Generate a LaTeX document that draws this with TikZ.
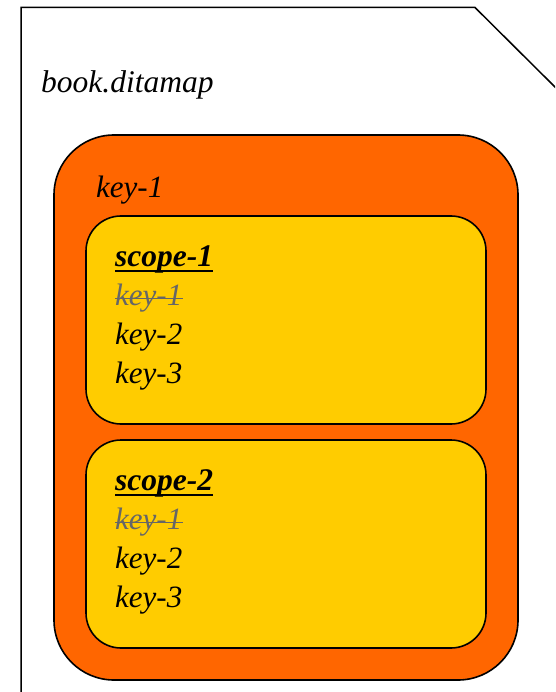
\documentclass[tikz,border=0pt]{standalone}
\usepackage{fontspec}
\setmainfont{Liberation Serif}
\definecolor{mapor}{HTML}{FF6600}
\definecolor{scopey}{HTML}{FFCC00}
\definecolor{strikeg}{HTML}{666666}
\begin{document}
\begin{tikzpicture}[x=1pt,y=-1pt,
  docline/.style={draw=black,line width=1.5pt},
  outerbox/.style={draw=black,line width=1.6pt,fill=mapor,rounded corners=60pt,inner sep=0pt},
  scopebox/.style={draw=black,line width=1.6pt,fill=scopey,rounded corners=35pt,inner sep=0pt,minimum width=400pt,minimum height=208pt},
  lbl/.style={anchor=base west,inner sep=0pt,font=\fontsize{31}{37}\selectfont\itshape},
  blbl/.style={anchor=base west,inner sep=0pt,font=\fontsize{31.5}{37}\selectfont\itshape},
  slbl/.style={anchor=base west,inner sep=0pt,font=\fontsize{31.5}{37}\selectfont\bfseries\itshape},
  glbl/.style={lbl,text=strikeg},
  uline/.style={draw=black,line width=2pt},
  sline/.style={draw=strikeg,line width=1.6pt}]
\useasboundingbox (0,0) rectangle (555,692);
\clip (0,0) rectangle (555,692);
\fill[white] (0,0) rectangle (555,692);
\coordinate (d1) at (556,88);
\coordinate (d2) at (475,7.5);
\coordinate (d3) at (21,7.5);
\coordinate (d4) at (21,700);
\draw[docline] (d1) -- (d2) -- (d3) -- (d4);
\node[blbl] (book) at (41,93) {book.ditamap};
\node[outerbox,minimum width=464pt,minimum height=545pt] (map) at (286,407.5) {};
\node[lbl] (mk1) at (96,198) {key-1};
\node[scopebox] (s1) at (286,320) {};
\node[scopebox] (s2) at (286,544) {};
\node[slbl] (s1t) at (115,266) {scope-1};
\node[glbl] (s1k1) at (115,305) {key-1};
\node[lbl] (s1k2) at (115,344) {key-2};
\node[lbl] (s1k3) at (115,383) {key-3};
\node[slbl] (s2t) at (115,490) {scope-2};
\node[glbl] (s2k1) at (115,529) {key-1};
\node[lbl] (s2k2) at (115,568) {key-2};
\node[lbl] (s2k3) at (115,607) {key-3};
\foreach \n in {s1t,s2t}{
  \draw[uline] ([yshift=-5pt]\n.base west) -- ([yshift=-5pt]\n.base east);}
\foreach \n in {s1k1,s2k1}{
  \draw[sline] ([yshift=6.5pt]\n.base west) -- ([yshift=6.5pt]\n.base east);}
\end{tikzpicture}
\end{document}
